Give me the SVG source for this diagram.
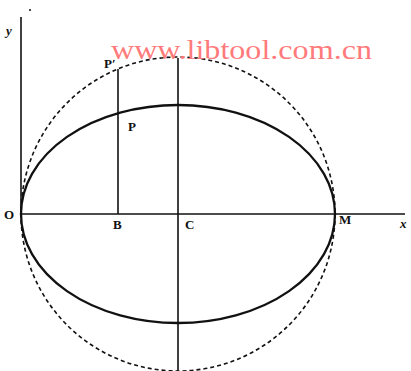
<svg xmlns="http://www.w3.org/2000/svg" width="411" height="371" viewBox="0 0 411 371">
<style>
.ax{stroke:#111;stroke-width:1.6;fill:none}
.ell{stroke:#111;stroke-width:2.3;fill:none}
.cir{stroke:#111;stroke-width:1.6;fill:none;stroke-dasharray:4 3}
.lb{font-family:"Liberation Serif",serif;font-weight:bold;font-size:13px;fill:#111}
.wm{font-family:"Liberation Serif",serif;font-size:28px;fill:#ff7b7b}
</style>
<rect width="411" height="371" fill="#fff"/>
<g id="connectors">
<line class="ax" x1="21" y1="17" x2="21" y2="214"/>
<line class="ax" x1="21" y1="214" x2="405" y2="214"/>
<line class="ax" x1="178" y1="58" x2="178" y2="371"/>
<line class="ax" x1="118" y1="69" x2="118" y2="214"/>
</g>
<g id="circle"><circle class="cir" cx="178" cy="214" r="157"/></g>
<g id="ellipse"><ellipse class="ell" cx="178" cy="214" rx="157" ry="109"/></g>
<circle cx="30" cy="10" r="1" fill="#111"/>
<g id="labels">
<text class="lb" x="6" y="35" font-style="italic">y</text>
<text class="lb" x="4" y="219">O</text>
<text class="lb" x="113" y="229">B</text>
<text class="lb" x="185" y="229">C</text>
<text class="lb" x="339" y="224">M</text>
<text class="lb" x="400" y="228" font-style="italic">x</text>
<text class="lb" x="128" y="131">P</text>
<text class="lb" x="104" y="68" font-size="10">P′</text>
</g>
<text class="wm" x="111" y="59" textLength="261" lengthAdjust="spacingAndGlyphs">www.libtool.com.cn</text>
</svg>
